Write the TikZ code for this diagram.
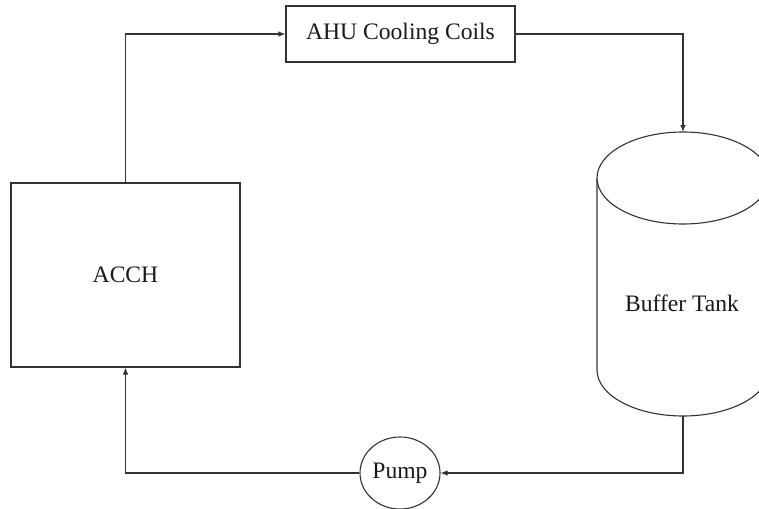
\documentclass[tikz,border=0pt]{standalone}
\usepackage{fontspec}
\setmainfont{Liberation Serif}
\usetikzlibrary{arrows.meta,shapes.geometric}
\begin{document}
\begin{tikzpicture}[x=1pt,y=-1pt,
  line/.style={draw=black!80,line width=1.1pt},
  flow/.style={line,-{Latex[length=7pt,width=5.5pt]}},
  lbl/.style={font=\fontsize{23.6}{26}\selectfont,text=black!90},
  boxnode/.style={line,fill=white,inner sep=0pt}]
\useasboundingbox (0,0) rectangle (759,508);
\clip (0,0) rectangle (759,508);
% boxes
\node[boxnode,minimum width=229pt,minimum height=56pt,lbl] (ahu) at (400.5,34) {AHU Cooling Coils};
\node[boxnode,minimum width=229pt,minimum height=184pt,lbl] (acch) at (125.5,275) {ACCH};
\node[boxnode,ellipse,minimum width=80pt,minimum height=72pt,lbl] (pump) at (400,473) {Pump};
% buffer tank
\draw[line,fill=white] (597,178) -- (597,370) arc[start angle=180,end angle=0,x radius=86,y radius=46] -- (769,178);
\draw[line,fill=white] (683,178) ellipse[x radius=86,y radius=46];
\node[lbl] (tank) at (682,303) {Buffer Tank};
\coordinate (tanktop) at (683,132);
\coordinate (tankbot) at (683,416);
% connectors
\draw[flow] (acch.north) |- (ahu.west);
\draw[flow] (ahu.east) -| (tanktop);
\draw[flow] (tankbot) |- (pump.east);
\draw[flow] (pump.west) -| (acch.south);
\end{tikzpicture}
\end{document}
